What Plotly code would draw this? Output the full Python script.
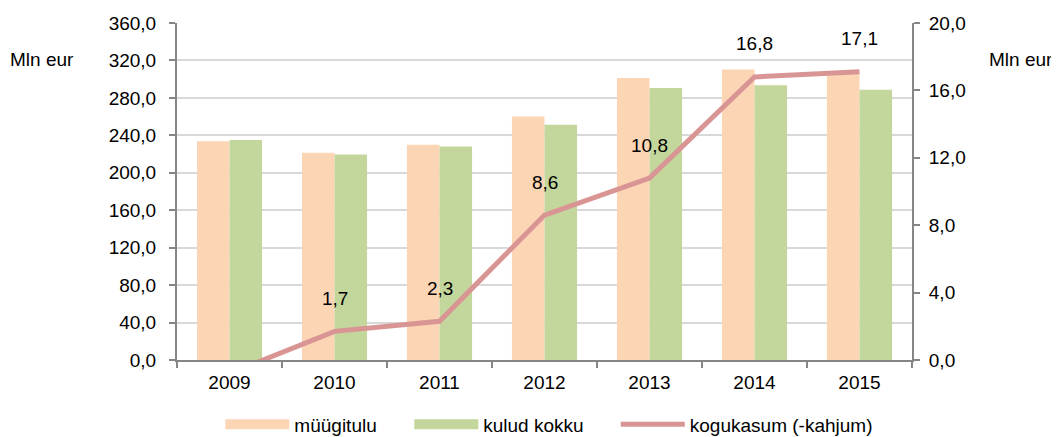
import plotly.graph_objects as go

# andmed
years = ["2009", "2010", "2011", "2012", "2013", "2014", "2015"]
myygitulu = [233.8, 221.4, 230.0, 260.2, 301.3, 310.2, 306.0]
kulud_kokku = [234.9, 219.6, 228.1, 251.3, 290.6, 293.4, 288.8]
kogukasum = [-0.8, 1.7, 2.3, 8.6, 10.8, 16.8, 17.1]
kasum_labels = ["", "1,7", "2,3", "8,6", "10,8", "16,8", "17,1"]

FONT = "Liberation Sans, Arial, sans-serif"
AXIS_GREY = "#868686"
C_MYYK = "#FCD5B5"
C_KULUD = "#C3D69B"
C_KASUM = "#D99594"

fig = go.Figure()
fig.add_trace(go.Bar(x=years, y=myygitulu, name="müügitulu", showlegend=False,
                     marker=dict(color=C_MYYK, line=dict(width=0))))
fig.add_trace(go.Bar(x=years, y=kulud_kokku, name="kulud kokku", showlegend=False,
                     marker=dict(color=C_KULUD, line=dict(width=0))))
fig.add_trace(go.Scatter(x=years, y=kogukasum, name="kogukasum (-kahjum)", yaxis="y2",
                         mode="lines", line=dict(color=C_KASUM, width=5), legend="legend3"))

# legendi jaoks laiad ristkülikud (Exceli stiilis), ilma andmeteta
fig.add_trace(go.Scatter(x=[None], y=[None], name="müügitulu", mode="lines",
                         line=dict(color=C_MYYK, width=14), legend="legend"))
fig.add_trace(go.Scatter(x=[None], y=[None], name="kulud kokku", mode="lines",
                         line=dict(color=C_KULUD, width=14), legend="legend2"))

# andmesildid joone kohal (kategooriatelje puhul indeks, mitte aastaarv)
for i, (val, lab) in enumerate(zip(kogukasum, kasum_labels)):
    if lab:
        fig.add_annotation(x=i, y=val, yref="y2", text=lab, showarrow=False,
                           yshift=33, font=dict(size=19, color="black"))

fig.add_annotation(xref="paper", yref="paper", x=-0.23, y=0.929, text="Mln eur",
                   showarrow=False, xanchor="left", font=dict(size=19, color="black"))
fig.add_annotation(xref="paper", yref="paper", x=1.1946, y=0.929, text="Mln eur",
                   showarrow=False, xanchor="right", font=dict(size=19, color="black"))

leg = dict(orientation="h", xanchor="left", y=-0.135, yanchor="top",
           font=dict(size=19), itemwidth=64, bgcolor="rgba(0,0,0,0)")

# lehel on 8px servaruum, seega joonis on selle võrra väiksem
fig.update_layout(
    width=1051, height=429,
    margin=dict(l=169, r=147, t=15, b=77, autoexpand=False),
    paper_bgcolor="white", plot_bgcolor="white",
    font=dict(family=FONT, size=19, color="black"),
    separators=", ",
    barmode="group", bargap=0.38, bargroupgap=0,
    legend=dict(leg, x=0.059),
    legend2=dict(leg, x=0.316),
    legend3=dict(leg, x=0.597),
    xaxis=dict(type="category", showline=True, linecolor=AXIS_GREY, linewidth=2,
               ticks="outside", tickson="boundaries", tickcolor=AXIS_GREY, ticklen=6,
               tickwidth=2, showgrid=False, tickangle=0, ticklabelstandoff=4),
    yaxis=dict(range=[0, 360], dtick=40, tickformat=".1f", showline=True,
               linecolor=AXIS_GREY, linewidth=2, ticks="outside", tickcolor=AXIS_GREY,
               ticklen=6, tickwidth=2, showgrid=True, gridcolor="#D9D9D9", gridwidth=2,
               zeroline=False, ticklabelstandoff=9),
    yaxis2=dict(range=[0, 20], dtick=4, tickformat=".1f", overlaying="y", side="right",
                showline=True, linecolor=AXIS_GREY, linewidth=2, ticks="outside",
                tickcolor=AXIS_GREY, ticklen=6, tickwidth=2, showgrid=False,
                zeroline=False, ticklabelstandoff=5),
)

fig.write_html("out.html")
